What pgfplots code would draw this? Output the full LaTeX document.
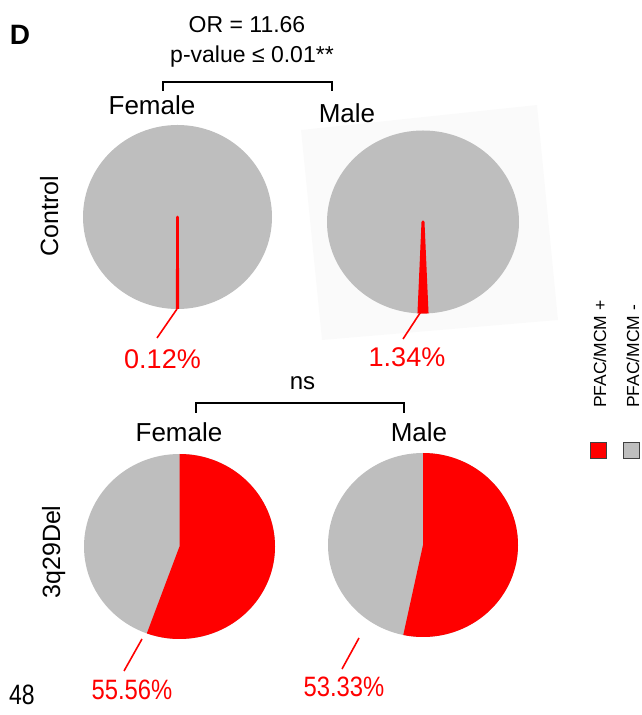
\documentclass[border=0pt]{standalone}
\usepackage{pgfplots}
\pgfplotsset{compat=1.18}
\usepackage{fontspec}
\setmainfont{Liberation Sans}
\definecolor{pieRed}{HTML}{FF0000}
\definecolor{pieGray}{HTML}{BEBEBE}
\definecolor{bgGray}{HTML}{FAFAFA}
\newcommand{\fs}[1]{\fontsize{#1}{#1}\selectfont}
% share of PFAC/MCM + (percent)
\newcommand{\pctFC}{0.12}  % Control, Female
\newcommand{\pctMC}{1.34}  % Control, Male
\newcommand{\pctFD}{55.56} % 3q29Del, Female
\newcommand{\pctMD}{53.33} % 3q29Del, Male
% #1 cx, #2 cy, #3 rx, #4 ry, #5 start angle, #6 end angle, #7 style
\newcommand{\pieslice}[7]{%
  \filldraw[#7] (axis cs:#1,#2) -- (axis cs:{#1+#3*cos(#5)},{#2+#4*sin(#5)})
    arc[start angle={#5}, end angle={#6}, x radius=#3pt, y radius=#4pt] -- cycle;}
\newcommand{\piebase}[4]{%
  \fill[pieGray] (axis cs:#1,#2) ellipse[x radius=#3pt, y radius=#4pt];}
\begin{document}
\begin{tikzpicture}
\begin{axis}[hide axis, x=1pt, y=1pt, xmin=0, xmax=642, ymin=0, ymax=715,
  enlargelimits=false, clip=false]
\path (axis cs:0,0) rectangle (axis cs:642,715);
% faint scan background behind the top-right pie
\fill[bgGray] (axis cs:301,585) -- (axis cs:537,610) -- (axis cs:558,395) -- (axis cs:322,375) -- cycle;
% ---- pies ----
\piebase{177.5}{498}{94.5}{92}
\begin{scope}
\clip (axis cs:177.5,498) ellipse[x radius=94.5pt, y radius=92pt];
\pieslice{177.5}{498}{94.5}{92}{270-\pctFC*1.8}{270+\pctFC*1.8}{fill=pieRed, draw=pieRed, line width=2.6pt, line join=round}
\end{scope}
\piebase{423}{493}{96}{91.5}
\begin{scope}
\clip (axis cs:423,493) ellipse[x radius=96pt, y radius=91.5pt];
\pieslice{423}{493}{96}{91.5}{270-\pctMC*1.8}{270+\pctMC*1.8}{fill=pieRed, draw=pieRed, line width=3pt, line join=round}
\end{scope}
\piebase{179.5}{168.5}{95.5}{92.5}
\pieslice{179.5}{168.5}{95.5}{92.5}{90}{90-\pctFD*3.6}{fill=pieRed, draw=none}
\piebase{423}{170}{95}{92}
\pieslice{423}{170}{95}{92}{90}{90-\pctMD*3.6}{fill=pieRed, draw=none}
% ---- leader lines ----
\draw[pieRed, line width=1.6pt] (axis cs:177,406) -- (axis cs:157,377);
\draw[pieRed, line width=1.6pt] (axis cs:422,405) -- (axis cs:403,376);
\draw[pieRed, line width=1.6pt] (axis cs:142,76) -- (axis cs:124,44);
\draw[pieRed, line width=1.6pt] (axis cs:359,77) -- (axis cs:342,46);
% ---- percentage labels ----
\node[pieRed, inner sep=0pt, font=\fs{27}] at (axis cs:162.5,356) {0.12\%};
\node[pieRed, inner sep=0pt, font=\fs{27}] at (axis cs:407,358) {1.34\%};
\node[pieRed, inner sep=0pt, font=\fs{28}, xscale=0.85] at (axis cs:132,25) {55.56\%};
\node[pieRed, inner sep=0pt, font=\fs{28}, xscale=0.85] at (axis cs:344,28) {53.33\%};
% ---- top annotations ----
\node[anchor=base, inner sep=0pt, font=\fs{23}] at (axis cs:247,682) {OR = 11.66};
\node[anchor=base, inner sep=0pt, font=\fs{23}] at (axis cs:252,652) {p-value ≤ 0.01**};
\draw[line width=1.5pt] (axis cs:163,624) -- (axis cs:163,633) -- (axis cs:332,633) -- (axis cs:332,624);
\node[anchor=base, inner sep=0pt, font=\fs{26}] at (axis cs:152,600) {Female};
\node[anchor=base, inner sep=0pt, font=\fs{26}] at (axis cs:347,592) {Male};
% ---- bottom annotations ----
\node[anchor=base, inner sep=0pt, font=\fs{24}] at (axis cs:302.5,325) {ns};
\draw[line width=1.5pt] (axis cs:196,302) -- (axis cs:196,312) -- (axis cs:404,312) -- (axis cs:404,302);
\node[anchor=base, inner sep=0pt, font=\fs{26}] at (axis cs:179,273) {Female};
\node[anchor=base, inner sep=0pt, font=\fs{26}] at (axis cs:419,273) {Male};
% ---- row labels ----
\node[anchor=base, rotate=90, inner sep=0pt, font=\fs{25}] at (axis cs:58,499) {Control};
\node[anchor=base, rotate=90, inner sep=0pt, font=\fs{25}] at (axis cs:60,163) {3q29Del};
% ---- legend ----
\draw[fill=pieRed, draw=black!75, line width=0.8pt] (axis cs:590.5,256.5) rectangle (axis cs:606.5,272.5);
\draw[fill=pieGray, draw=black!75, line width=0.8pt] (axis cs:623.5,256.5) rectangle (axis cs:639.5,272.5);
\node[anchor=base west, rotate=90, inner sep=0pt, font=\fs{17.5}] at (axis cs:606,307) {PFAC/MCM +};
\node[anchor=base west, rotate=90, inner sep=0pt, font=\fs{17.5}] at (axis cs:639,307) {PFAC/MCM -};
% ---- panel letter and page number ----
\node[anchor=base, inner sep=0pt, font=\fs{28}\bfseries] at (axis cs:20,670) {D};
\node[anchor=base, inner sep=0pt, font=\fs{28}, xscale=0.82] at (axis cs:22,10) {48};
\end{axis}
\end{tikzpicture}
\end{document}
